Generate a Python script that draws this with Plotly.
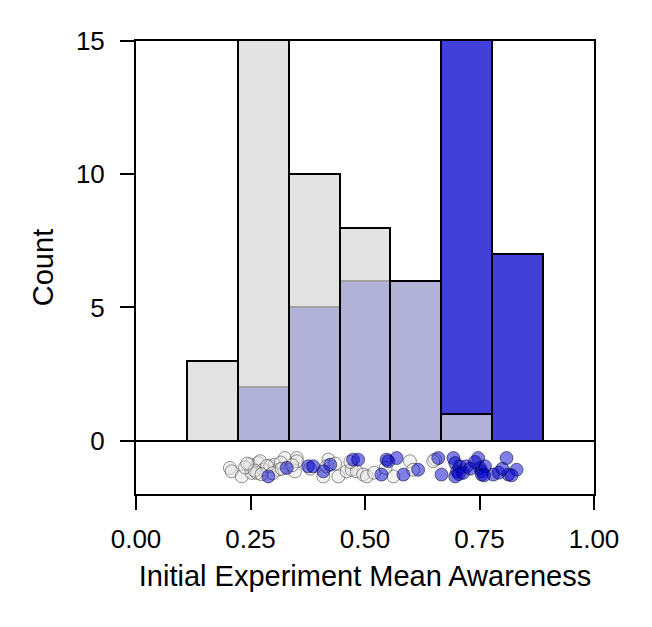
import plotly.graph_objects as go

# histogram bins (edges at k/9)
bin_edges = [1/9, 2/9, 3/9, 4/9, 5/9, 6/9, 7/9, 8/9]
grey_counts = [3, 17, 10, 8, 6, 1, 0]
blue_counts = [0, 2, 5, 6, 6, 16, 7]

# individual observations shown as a strip below zero
grey_x = [0.205, 0.209, 0.231, 0.249, 0.253, 0.267, 0.271, 0.264, 0.278, 0.293,
          0.303, 0.311, 0.325, 0.347, 0.351, 0.351, 0.409, 0.420, 0.416, 0.442,
          0.460, 0.471, 0.482, 0.496, 0.504, 0.562, 0.598, 0.605, 0.653, 0.649,
          0.238, 0.259, 0.286, 0.298, 0.316, 0.243, 0.274, 0.380, 0.435, 0.468,
          0.520, 0.545, 0.318, 0.341]
grey_y = [-1.02, -1.15, -1.34, -0.90, -1.21, -0.84, -0.77, -1.21, -1.09, -0.96,
          -0.90, -1.09, -0.65, -1.15, -0.65, -0.77, -1.34, -0.71, -0.96, -1.34,
          -1.15, -1.09, -1.15, -1.27, -1.34, -1.34, -0.77, -1.09, -0.71, -0.77,
          -1.00, -1.12, -0.95, -1.22, -0.82, -0.86, -1.26, -1.05, -0.86, -0.80,
          -1.20, -1.02, -1.05, -0.92]
blue_x = [0.289, 0.329, 0.376, 0.387, 0.409, 0.424, 0.474, 0.485, 0.536, 0.547,
          0.551, 0.569, 0.584, 0.616, 0.660, 0.667, 0.693, 0.697, 0.701, 0.697,
          0.707, 0.722, 0.714, 0.747, 0.751, 0.755, 0.755, 0.762, 0.780, 0.809,
          0.813, 0.831, 0.705, 0.730, 0.740, 0.760, 0.792, 0.800, 0.820]
blue_y = [-1.34, -1.02, -0.96, -0.96, -1.15, -0.90, -0.71, -0.71, -1.27, -0.71,
          -0.77, -0.65, -1.27, -1.09, -0.65, -1.27, -0.65, -0.84, -1.15, -1.34,
          -0.96, -0.96, -1.21, -0.65, -1.02, -1.15, -1.27, -0.96, -1.27, -0.65,
          -1.27, -1.09, -1.25, -1.05, -0.80, -1.30, -1.20, -1.05, -1.30]

centers = [(a + b) / 2 for a, b in zip(bin_edges[:-1], bin_edges[1:])]
widths = [b - a for a, b in zip(bin_edges[:-1], bin_edges[1:])]

fig = go.Figure()

# blue group first, translucent grey group layered on top
fig.add_trace(go.Bar(
    x=centers, y=blue_counts, width=widths,
    marker=dict(color="#4141d9", line=dict(color="black", width=2)),
))
fig.add_trace(go.Bar(
    x=centers, y=grey_counts, width=widths,
    marker=dict(color="rgba(217,217,217,0.74)", line=dict(color="black", width=2)),
))

fig.add_trace(go.Scatter(
    x=grey_x, y=grey_y, mode="markers",
    marker=dict(size=13, color="rgba(230,230,230,0.5)",
                line=dict(color="rgba(40,40,40,0.5)", width=1)),
))
fig.add_trace(go.Scatter(
    x=blue_x, y=blue_y, mode="markers",
    marker=dict(size=13, color="rgba(0,0,204,0.5)",
                line=dict(color="rgba(0,0,40,0.5)", width=1)),
))

font_family = "Arial, Liberation Sans, sans-serif"

fig.update_layout(
    width=652, height=627,
    margin=dict(l=128, r=66, t=33, b=141),
    barmode="overlay", bargap=0,
    showlegend=False,
    plot_bgcolor="white", paper_bgcolor="white",
    font=dict(family=font_family, size=24.5, color="black"),
    xaxis=dict(
        range=[0, 1], tickvals=[0, 0.25, 0.5, 0.75, 1.0],
        ticktext=["0.00", "0.25", "0.50", "0.75", "1.00"],
        tickfont=dict(size=26), ticklabelstandoff=7,
        ticks="outside", ticklen=14, tickwidth=2, tickcolor="black",
        showline=True, linecolor="black", linewidth=2, mirror=True,
        showgrid=False, zeroline=False, automargin=False,
        title=dict(text="Initial Experiment Mean Awareness", standoff=12),
    ),
    yaxis=dict(
        range=[-2, 15], tickvals=[0, 5, 10, 15],
        tickfont=dict(size=26), ticklabelstandoff=10,
        ticks="outside", ticklen=14, tickwidth=2, tickcolor="black",
        showline=True, linecolor="black", linewidth=2, mirror=True,
        showgrid=False, zeroline=True, zerolinecolor="black", zerolinewidth=2,
        automargin=False,
        title=dict(text="Count", standoff=14),
    ),
)

fig.write_html("out.html")
